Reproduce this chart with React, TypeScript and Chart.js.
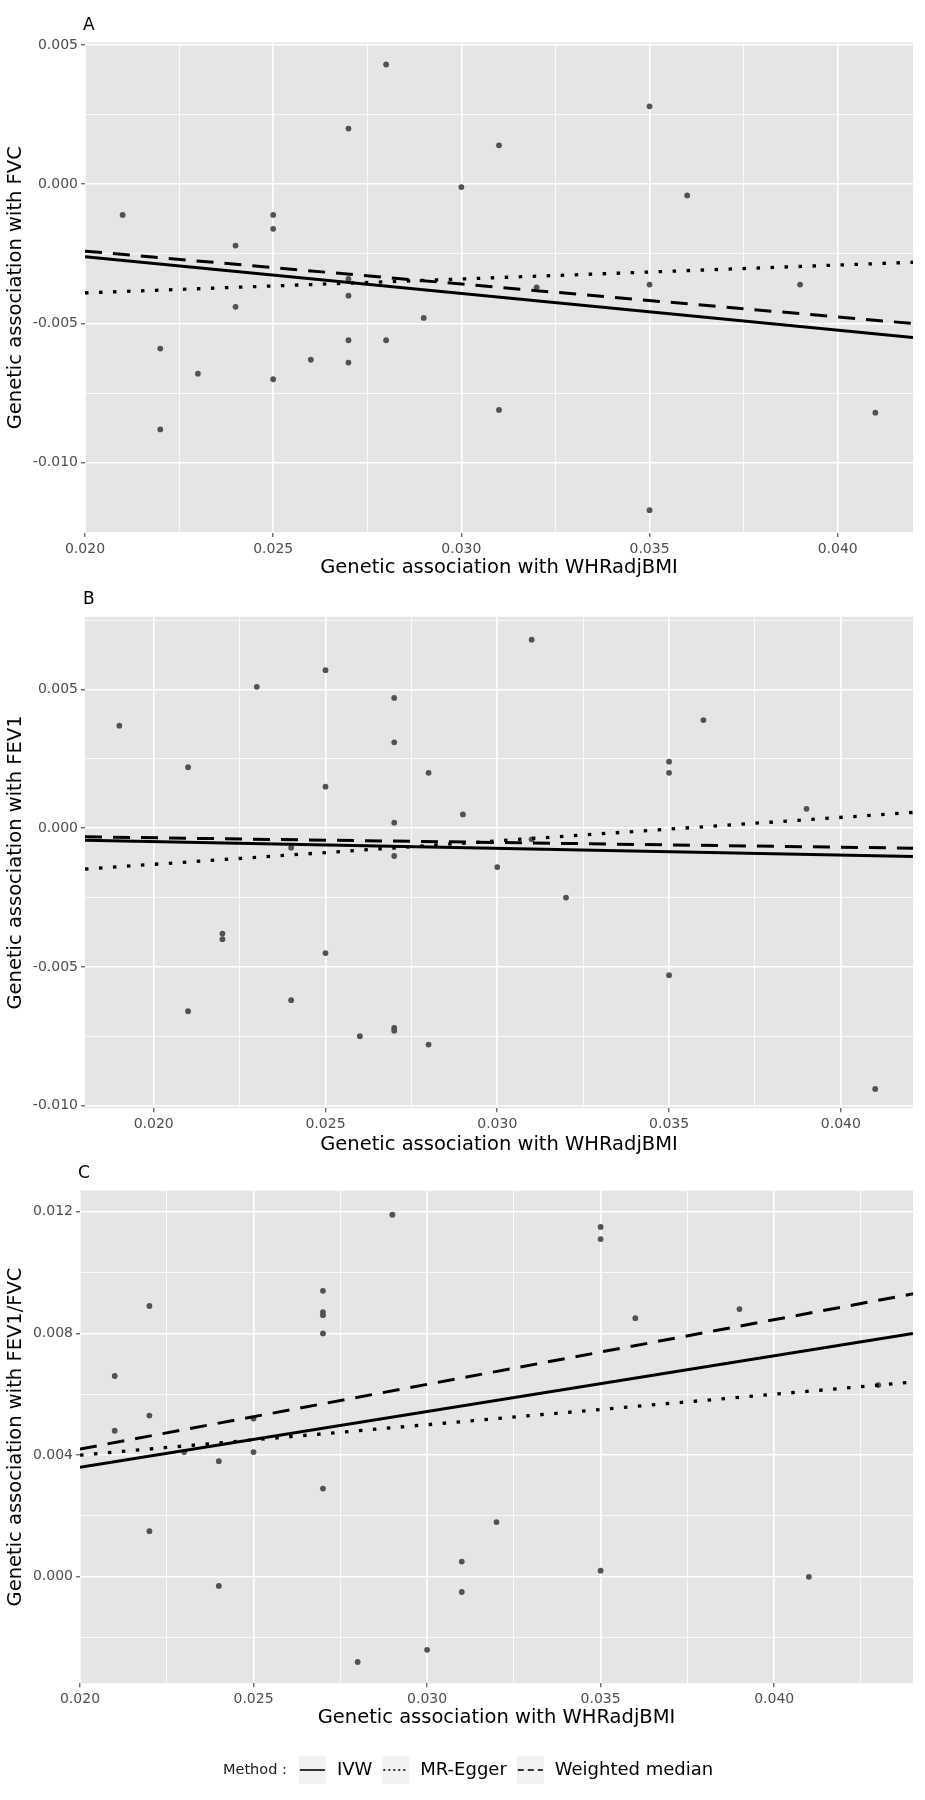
import React, { useEffect, useRef } from "react";
import { Chart, registerables } from "chart.js";

Chart.register(...registerables);

const FONT = "'DejaVu Sans', 'Liberation Sans', sans-serif";

// ---------- Panel A : FVC ----------
const snpXA = [0.028, 0.035, 0.027, 0.031, 0.030, 0.036, 0.021, 0.025, 0.025, 0.024, 0.027, 0.027, 0.024, 0.029, 0.035, 0.039, 0.032, 0.022, 0.027, 0.028, 0.026, 0.027, 0.023, 0.025, 0.031, 0.041, 0.022, 0.035];
const fvcY = [0.0043, 0.0028, 0.0020, 0.0014, -0.0001, -0.0004, -0.0011, -0.0011, -0.0016, -0.0022, -0.0034, -0.0040, -0.0044, -0.0048, -0.0036, -0.0036, -0.0037, -0.0059, -0.0056, -0.0056, -0.0063, -0.0064, -0.0068, -0.0070, -0.0081, -0.0082, -0.0088, -0.0117];
const lineXA = [0.020, 0.042];
const ivwA = [-0.0026, -0.0055];
const eggerA = [-0.0039, -0.0028];
const wmA = [-0.0024, -0.0050];
const xTicksA = [0.020, 0.025, 0.030, 0.035, 0.040];
const xMinorA = [0.0225, 0.0275, 0.0325, 0.0375];
const yTicksA = [-0.010, -0.005, 0.000, 0.005];
const yMinorA = [-0.0125, -0.0075, -0.0025, 0.0025];

// ---------- Panel B : FEV1 ----------
const snpXB = [0.031, 0.025, 0.023, 0.027, 0.019, 0.027, 0.036, 0.021, 0.035, 0.035, 0.028, 0.025, 0.029, 0.039, 0.027, 0.027, 0.030, 0.024, 0.031, 0.032, 0.022, 0.022, 0.025, 0.035, 0.024, 0.021, 0.026, 0.027, 0.027, 0.028, 0.041];
const fev1Y = [0.0068, 0.0057, 0.0051, 0.0047, 0.0037, 0.0031, 0.0039, 0.0022, 0.0024, 0.0020, 0.0020, 0.0015, 0.0005, 0.0007, 0.0002, -0.0010, -0.0014, -0.0007, -0.0004, -0.0025, -0.0038, -0.0040, -0.0045, -0.0053, -0.0062, -0.0066, -0.0075, -0.0072, -0.0073, -0.0078, -0.0094];
const lineXB = [0.018, 0.0421];
const ivwB = [-0.00043, -0.00102];
const eggerB = [-0.00147, 0.00057];
const wmB = [-0.00031, -0.00072];
const xTicksB = [0.020, 0.025, 0.030, 0.035, 0.040];
const xMinorB = [0.0225, 0.0275, 0.0325, 0.0375];
const yTicksB = [-0.010, -0.005, 0.000, 0.005];
const yMinorB = [-0.0075, -0.0025, 0.0025, 0.0075];

// ---------- Panel C : FEV1/FVC ----------
const snpXC = [0.029, 0.035, 0.035, 0.027, 0.027, 0.027, 0.027, 0.022, 0.036, 0.039, 0.021, 0.022, 0.021, 0.043, 0.025, 0.023, 0.025, 0.024, 0.027, 0.022, 0.032, 0.031, 0.035, 0.041, 0.024, 0.031, 0.030, 0.028];
const ratioY = [0.0119, 0.0115, 0.0111, 0.0094, 0.0087, 0.0086, 0.0080, 0.0089, 0.0085, 0.0088, 0.0066, 0.0053, 0.0048, 0.0063, 0.0052, 0.0041, 0.0041, 0.0038, 0.0029, 0.0015, 0.0018, 0.0005, 0.0002, 0.0000, -0.0003, -0.0005, -0.0024, -0.0028];
const lineXC = [0.020, 0.044];
const ivwC = [0.0036, 0.0080];
const eggerC = [0.0040, 0.0064];
const wmC = [0.0042, 0.0093];
const xTicksC = [0.020, 0.025, 0.030, 0.035, 0.040];
const xMinorC = [0.0225, 0.0275, 0.0325, 0.0375, 0.0425];
const yTicksC = [0.000, 0.004, 0.008, 0.012];
const yMinorC = [-0.002, 0.002, 0.006, 0.010];

const methods = ["IVW", "MR-Egger", "Weighted median"];
const xTitle = "Genetic association with WHRadjBMI";

const DOTTED = [3.5, 10.5];
const DASHED = [17, 11];

const panelDecor = {
  id: "panelDecor",
  beforeDraw(chart: any) {
    const { ctx, chartArea: a } = chart;
    ctx.save();
    ctx.fillStyle = "#E5E5E5";
    ctx.fillRect(a.left, a.top, a.right - a.left, a.bottom - a.top);
    ctx.restore();
  },
  afterDraw(chart: any, _args: any, opts: any) {
    const { ctx, chartArea: a } = chart;
    ctx.save();
    ctx.fillStyle = "#000";
    ctx.font = `17px ${FONT}`;
    ctx.textBaseline = "middle";
    ctx.textAlign = "left";
    ctx.fillText(opts.label, a.left - 2, a.top - 17);
    if (opts.legend) {
      const y = opts.legendY;
      let x = 223;
      ctx.font = `14.5px ${FONT}`;
      ctx.fillStyle = "#1a1a1a";
      ctx.fillText("Method :", x, y);
      x += ctx.measureText("Method :").width + 12;
      const dashes = [[], [2, 3], [6, 4]];
      methods.forEach((m, i) => {
        ctx.fillStyle = "#F2F2F2";
        ctx.fillRect(x, y - 14, 27, 28);
        ctx.strokeStyle = "#333";
        ctx.lineWidth = 2;
        ctx.setLineDash(dashes[i]);
        ctx.beginPath();
        ctx.moveTo(x + 1, y);
        ctx.lineTo(x + 26, y);
        ctx.stroke();
        ctx.setLineDash([]);
        x += 27 + 11;
        ctx.fillStyle = "#000";
        ctx.font = `18px ${FONT}`;
        ctx.fillText(m, x, y);
        x += ctx.measureText(m).width + 10;
      });
    }
    ctx.restore();
  },
};

type PanelProps = {
  label: string;
  top: number;
  height: number;
  xs: number[];
  ys: number[];
  lineX: number[];
  ivw: number[];
  egger: number[];
  wm: number[];
  xMin: number;
  xMax: number;
  yMin: number;
  yMax: number;
  xTicks: number[];
  xMinor: number[];
  yTicks: number[];
  yMinor: number[];
  yTitle: string;
  yAxisWidth: number;
  padTop: number;
  xAxisHeight: number;
  padBottom: number;
  legend?: boolean;
  legendY?: number;
};

function Panel(p: PanelProps) {
  const ref = useRef<HTMLCanvasElement>(null);
  useEffect(() => {
    const pts = (xs: number[], ys: number[]) => xs.map((x, i) => ({ x, y: ys[i] }));
    const lineDs = (label: string, ys: number[], dash: number[], width: number) => ({
      label,
      data: pts(p.lineX, ys),
      showLine: true,
      borderColor: "#000",
      backgroundColor: "#000",
      borderWidth: width,
      borderDash: dash,
      pointRadius: 0,
      xAxisID: "x",
      yAxisID: "y",
      order: 1,
    });
    const chart = new Chart(ref.current as HTMLCanvasElement, {
      type: "scatter",
      data: {
        datasets: [
          {
            label: "SNPs",
            data: pts(p.xs, p.ys),
            backgroundColor: "#525252",
            borderWidth: 0,
            pointRadius: 2.9,
            xAxisID: "x",
            yAxisID: "y",
            order: 4,
          } as any,
          lineDs(methods[0], p.ivw, [], 3),
          lineDs(methods[1], p.egger, DOTTED, 3.3),
          lineDs(methods[2], p.wm, DASHED, 3),
        ],
      },
      options: {
        responsive: false,
        animation: false,
        events: [],
        layout: { padding: { left: 0, right: 12, top: p.padTop, bottom: p.padBottom } },
        plugins: {
          legend: { display: false },
          tooltip: { enabled: false },
          title: { display: false },
          panelDecor: { label: p.label, legend: !!p.legend, legendY: p.legendY },
        } as any,
        scales: {
          x: {
            type: "linear",
            position: "bottom",
            min: p.xMin,
            max: p.xMax,
            afterBuildTicks: (s: any) => {
              s.ticks = p.xTicks.map((v) => ({ value: v }));
            },
            afterFit: (s: any) => {
              s.height = p.xAxisHeight;
            },
            grid: { color: "#FFFFFF", lineWidth: 1.6, drawTicks: true, tickLength: 4, tickColor: "#333333", tickWidth: 1 },
            border: { display: false },
            ticks: {
              padding: 3.5,
              color: "#4D4D4D",
              font: { size: 14, family: FONT },
              autoSkip: false,
              maxRotation: 0,
              callback: (v: any) => Number(v).toFixed(3),
            },
            title: {
              display: true,
              text: xTitle,
              color: "#000",
              font: { size: 19.5, family: FONT },
              padding: { top: 0, bottom: 0 },
            },
          },
          xm: {
            type: "linear",
            position: "bottom",
            min: p.xMin,
            max: p.xMax,
            afterBuildTicks: (s: any) => {
              s.ticks = p.xMinor.map((v) => ({ value: v }));
            },
            afterFit: (s: any) => {
              s.height = 0;
            },
            grid: { color: "#FFFFFF", lineWidth: 0.8, drawTicks: false },
            border: { display: false },
            ticks: { display: false },
          },
          y: {
            type: "linear",
            position: "left",
            min: p.yMin,
            max: p.yMax,
            afterBuildTicks: (s: any) => {
              s.ticks = p.yTicks.map((v) => ({ value: v }));
            },
            afterFit: (s: any) => {
              s.width = p.yAxisWidth;
            },
            grid: { color: "#FFFFFF", lineWidth: 1.6, drawTicks: true, tickLength: 4, tickColor: "#333333", tickWidth: 1 },
            border: { display: false },
            ticks: {
              padding: 3,
              color: "#4D4D4D",
              font: { size: 14, family: FONT },
              autoSkip: false,
              callback: (v: any) => Number(v).toFixed(3),
            },
            title: {
              display: true,
              text: p.yTitle,
              color: "#000",
              font: { size: 19.5, family: FONT },
              padding: { top: 4.3, bottom: 0 },
            },
          },
          ym: {
            type: "linear",
            position: "left",
            min: p.yMin,
            max: p.yMax,
            afterBuildTicks: (s: any) => {
              s.ticks = p.yMinor.map((v) => ({ value: v }));
            },
            afterFit: (s: any) => {
              s.width = 0;
            },
            grid: { color: "#FFFFFF", lineWidth: 0.8, drawTicks: false },
            border: { display: false },
            ticks: { display: false },
          },
        },
      } as any,
      plugins: [panelDecor as any],
    });
    return () => chart.destroy();
  }, []);
  return (
    <canvas
      ref={ref}
      width={925}
      height={p.height}
      style={{ position: "absolute", left: 0, top: p.top, width: 925, height: p.height }}
    />
  );
}

export default function App() {
  return (
    <div style={{ position: "absolute", left: 0, top: 0, width: 925, height: 1800, background: "#fff" }}>
      <Panel
        label="A"
        top={0}
        height={585}
        xs={snpXA}
        ys={fvcY}
        lineX={lineXA}
        ivw={ivwA}
        egger={eggerA}
        wm={wmA}
        xMin={0.020}
        xMax={0.042}
        yMin={-0.01252}
        yMax={0.00509}
        xTicks={xTicksA}
        xMinor={xMinorA}
        yTicks={yTicksA}
        yMinor={yMinorA}
        yTitle="Genetic association with FVC"
        yAxisWidth={85}
        padTop={42.5}
        xAxisHeight={46.7}
        padBottom={5.3}
      />
      <Panel
        label="B"
        top={585}
        height={573}
        xs={snpXB}
        ys={fev1Y}
        lineX={lineXB}
        ivw={ivwB}
        egger={eggerB}
        wm={wmB}
        xMin={0.018}
        xMax={0.0421}
        yMin={-0.0101}
        yMax={0.00763}
        xTicks={xTicksB}
        xMinor={xMinorB}
        yTicks={yTicksB}
        yMinor={yMinorB}
        yTitle="Genetic association with FEV1"
        yAxisWidth={85}
        padTop={31.7}
        xAxisHeight={48.4}
        padBottom={1.3}
      />
      <Panel
        label="C"
        top={1158}
        height={642}
        xs={snpXC}
        ys={ratioY}
        lineX={lineXC}
        ivw={ivwC}
        egger={eggerC}
        wm={wmC}
        xMin={0.020}
        xMax={0.044}
        yMin={-0.0035}
        yMax={0.01269}
        xTicks={xTicksC}
        xMinor={xMinorC}
        yTicks={yTicksC}
        yMinor={yMinorC}
        yTitle="Genetic association with FEV1/FVC"
        yAxisWidth={80}
        padTop={32.7}
        xAxisHeight={46.4}
        padBottom={70.3}
        legend
        legendY={612}
      />
    </div>
  );
}
